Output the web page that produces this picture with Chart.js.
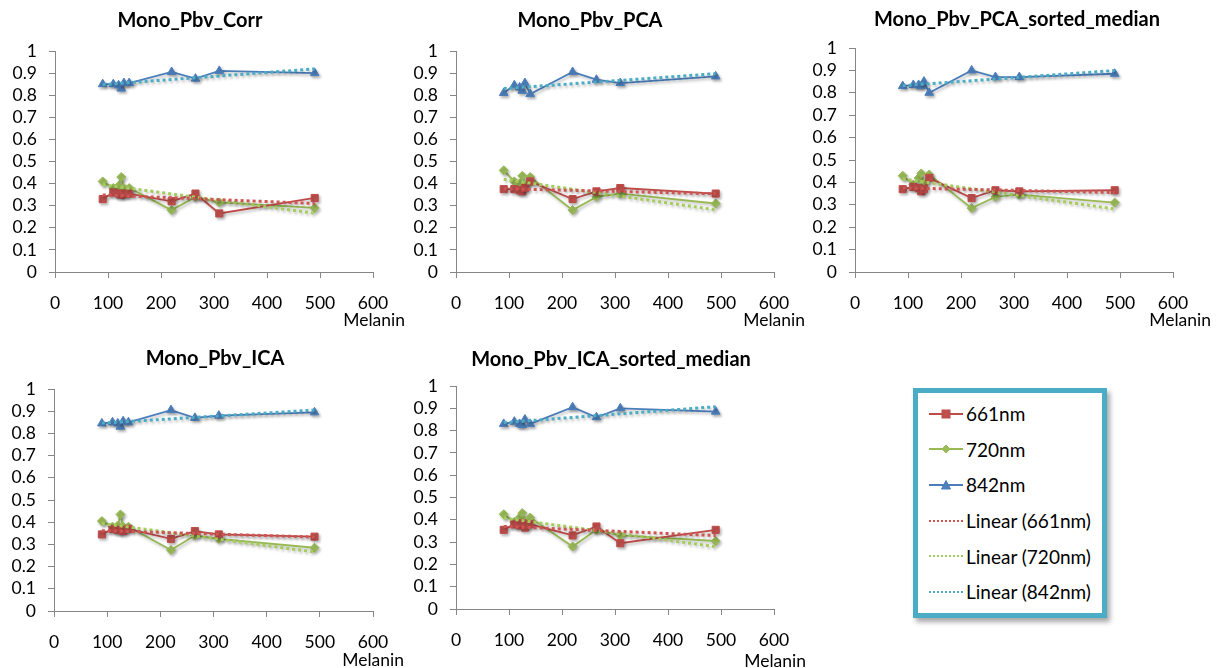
<!DOCTYPE html>
<html>
<head>
<meta charset="utf-8">
<script src="https://cdn.jsdelivr.net/npm/chart.js@4.4.1/dist/chart.umd.min.js"></script>
<style>
  body { margin: 0; background: #fff; width: 1223px; height: 668px; position: relative; overflow: hidden; font-family: Lato, sans-serif; }
  canvas.panel { position: absolute; }
  #legend {
    position: absolute; left: 913px; top: 388px; width: 184px; height: 217px;
    border: 5px solid #4BACC6; background: #fff;
    box-shadow: 3px 4px 5px rgba(0,0,0,0.35);
    padding-top: 3px; box-sizing: content-box;
  }
  #legend .row { height: 35.6px; display: flex; align-items: center; font-size: 19px; color: #000; }
  #legend svg { margin-left: 11px; margin-right: 3px; }
</style>
</head>
<body>
<canvas class="panel" id="c1"></canvas>
<canvas class="panel" id="c2"></canvas>
<canvas class="panel" id="c3"></canvas>
<canvas class="panel" id="c4"></canvas>
<canvas class="panel" id="c5"></canvas>
<div id="legend"></div>
<script>
// melanin values (x) shared by every panel
const melanin = [90, 110, 120, 125, 130, 140, 220, 265, 310, 490];

const xTicks = [0, 100, 200, 300, 400, 500, 600];
const xTickLabels = ["0", "100", "200", "300", "400", "500", "600"];
const yTicks = [0, 0.1, 0.2, 0.3, 0.4, 0.5, 0.6, 0.7, 0.8, 0.9, 1];
const yTickLabels = ["0", "0.1", "0.2", "0.3", "0.4", "0.5", "0.6", "0.7", "0.8", "0.9", "1"];

const seriesNames = ["661nm", "720nm", "842nm"];

// Mono_Pbv_Corr
const corr661 = [0.33, 0.36, 0.355, 0.35, 0.355, 0.355, 0.32, 0.355, 0.265, 0.335];
const corr720 = [0.41, 0.38, 0.39, 0.43, 0.38, 0.38, 0.28, 0.34, 0.315, 0.29];
const corr842 = [0.85, 0.85, 0.845, 0.83, 0.855, 0.855, 0.905, 0.875, 0.91, 0.90];

// Mono_Pbv_PCA
const pca661 = [0.375, 0.375, 0.37, 0.365, 0.38, 0.41, 0.33, 0.365, 0.38, 0.355];
const pca720 = [0.46, 0.41, 0.40, 0.435, 0.395, 0.43, 0.28, 0.34, 0.355, 0.31];
const pca842 = [0.81, 0.845, 0.835, 0.82, 0.855, 0.805, 0.905, 0.87, 0.855, 0.885];

// Mono_Pbv_PCA_sorted_median
const pcaMed661 = [0.37, 0.38, 0.375, 0.36, 0.37, 0.42, 0.33, 0.365, 0.36, 0.365];
const pcaMed720 = [0.43, 0.39, 0.42, 0.44, 0.395, 0.435, 0.285, 0.335, 0.345, 0.31];
const pcaMed842 = [0.83, 0.835, 0.835, 0.83, 0.85, 0.80, 0.90, 0.87, 0.87, 0.885];

// Mono_Pbv_ICA
const ica661 = [0.345, 0.37, 0.365, 0.365, 0.36, 0.37, 0.325, 0.36, 0.345, 0.335];
const ica720 = [0.405, 0.38, 0.385, 0.435, 0.38, 0.38, 0.275, 0.34, 0.325, 0.285];
const ica842 = [0.845, 0.85, 0.845, 0.83, 0.855, 0.85, 0.905, 0.87, 0.88, 0.895];

// Mono_Pbv_ICA_sorted_median
const icaMed661 = [0.355, 0.38, 0.375, 0.385, 0.365, 0.38, 0.33, 0.37, 0.295, 0.355];
const icaMed720 = [0.425, 0.39, 0.41, 0.43, 0.39, 0.41, 0.28, 0.355, 0.33, 0.305];
const icaMed842 = [0.83, 0.84, 0.83, 0.825, 0.85, 0.83, 0.905, 0.86, 0.90, 0.885];

const lineColors = ["#BE4B48", "#98B954", "#4A7EBB"];
const markerColors = ["#C0504D", "#9BBB59", "#4F81BD"];
const trendColors = ["#CF5552", "#A6CC5C", "#4BACC6"];
const markerStyles = ["rect", "rectRot", "triangle"];
const markerSizes = [5, 4.5, 5];

// where each panel sits on the page; area = plot rectangle inside its canvas
const panels = [
  { id: "c1", title: "Mono_Pbv_Corr", data: [corr661, corr720, corr842],
    box: [0, 0, 415, 335], area: [55, 51, 373, 272], titlePos: [190, 21], axisPos: [32, 48] },
  { id: "c2", title: "Mono_Pbv_PCA", data: [pca661, pca720, pca842],
    box: [400, 0, 415, 335], area: [56, 51, 374, 272], titlePos: [190, 21], axisPos: [31, 48] },
  { id: "c3", title: "Mono_Pbv_PCA_sorted_median", data: [pcaMed661, pcaMed720, pcaMed842],
    box: [800, 0, 423, 335], area: [55, 48, 373, 272], titlePos: [217, 20], axisPos: [38, 48] },
  { id: "c4", title: "Mono_Pbv_ICA", data: [ica661, ica720, ica842],
    box: [0, 335, 415, 333], area: [54, 54, 373, 276], titlePos: [215, 24], axisPos: [31, 49] },
  { id: "c5", title: "Mono_Pbv_ICA_sorted_median", data: [icaMed661, icaMed720, icaMed842],
    box: [400, 335, 415, 333], area: [56, 51, 374, 274], titlePos: [211, 25], axisPos: [32, 52] }
];

// Excel style linear trendline: least squares over the data range
function trend(xs, ys) {
  const n = xs.length;
  const mx = xs.reduce((a, b) => a + b, 0) / n;
  const my = ys.reduce((a, b) => a + b, 0) / n;
  let sxy = 0, sxx = 0;
  for (let i = 0; i < n; i++) {
    sxy += (xs[i] - mx) * (ys[i] - my);
    sxx += (xs[i] - mx) * (xs[i] - mx);
  }
  const b = sxy / sxx, a = my - b * mx;
  const x0 = Math.min(...xs), x1 = Math.max(...xs);
  return [{ x: x0, y: a + b * x0 }, { x: x1, y: a + b * x1 }];
}

const shadowPlugin = {
  id: "shadow",
  beforeDatasetsDraw(chart) {
    const ctx = chart.ctx;
    ctx.save();
    ctx.shadowColor = "rgba(0,0,0,0.28)";
    ctx.shadowBlur = 3;
    ctx.shadowOffsetX = 1.5;
    ctx.shadowOffsetY = 2;
  },
  afterDatasetsDraw(chart) {
    chart.ctx.restore();
  }
};

const textPlugin = {
  id: "panelText",
  afterDraw(chart, args, opts) {
    const ctx = chart.ctx;
    const area = chart.chartArea;
    ctx.save();
    ctx.fillStyle = "#000";
    ctx.font = "bold 20px Lato";
    ctx.textAlign = "center";
    ctx.textBaseline = "middle";
    ctx.fillText(opts.title, opts.titlePos[0], opts.titlePos[1]);
    ctx.font = "17.5px Lato";
    ctx.textAlign = "right";
    ctx.fillText("Melanin", area.right + opts.axisPos[0], area.bottom + opts.axisPos[1]);
    ctx.restore();
  }
};

panels.forEach(p => {
  const cv = document.getElementById(p.id);
  const [left, top, w, h] = p.box;
  cv.style.left = left + "px";
  cv.style.top = top + "px";
  cv.width = w;
  cv.height = h;
  cv.style.width = w + "px";
  cv.style.height = h + "px";

  const yW = 50, xH = 45;
  const [ax0, ay0, ax1, ay1] = p.area;

  const datasets = [];
  p.data.forEach((vals, i) => {
    datasets.push({
      label: seriesNames[i],
      data: melanin.map((x, k) => ({ x, y: vals[k] })),
      borderColor: lineColors[i],
      borderWidth: 1.8,
      backgroundColor: markerColors[i],
      pointBackgroundColor: markerColors[i],
      pointBorderColor: lineColors[i],
      pointBorderWidth: 1,
      pointStyle: markerStyles[i],
      pointRadius: markerSizes[i],
      tension: 0,
      order: 1
    });
  });
  p.data.forEach((vals, i) => {
    datasets.push({
      label: "Linear (" + seriesNames[i] + ")",
      data: trend(melanin, vals),
      borderColor: trendColors[i],
      borderWidth: 3,
      borderDash: [3, 3],
      pointRadius: 0,
      tension: 0,
      order: 0
    });
  });

  new Chart(cv, {
    type: "line",
    data: { datasets },
    options: {
      responsive: false,
      animation: false,
      events: [],
      layout: { padding: { left: ax0 - yW, top: ay0, right: w - ax1, bottom: h - ay1 - xH } },
      plugins: {
        legend: { display: false },
        tooltip: { enabled: false },
        panelText: { title: p.title, titlePos: p.titlePos, axisPos: p.axisPos }
      },
      scales: {
        x: {
          type: "linear",
          min: 0, max: 600,
          afterFit: s => { s.height = xH; },
          afterBuildTicks: s => { s.ticks = xTicks.map(v => ({ value: v })); },
          ticks: {
            callback: (v, i) => xTickLabels[i],
            font: { family: "Lato", size: 17.5 },
            color: "#000",
            padding: 15,
            maxRotation: 0,
            autoSkip: false
          },
          grid: { display: true, drawOnChartArea: false, drawTicks: true, tickLength: 6, color: "#868686" },
          border: { color: "#868686", width: 1 }
        },
        y: {
          type: "linear",
          min: 0, max: 1,
          afterFit: s => { s.width = yW; },
          afterBuildTicks: s => { s.ticks = yTicks.map(v => ({ value: v })); },
          ticks: {
            callback: (v, i) => yTickLabels[i],
            font: { family: "Lato", size: 17.5 },
            color: "#000",
            padding: 12,
            autoSkip: false
          },
          grid: { display: true, drawOnChartArea: false, drawTicks: true, tickLength: 6, color: "#868686" },
          border: { color: "#868686", width: 1 }
        }
      }
    },
    plugins: [shadowPlugin, textPlugin]
  });
});

// legend box shared by all panels
function legendIcon(i, trendLine) {
  if (trendLine) {
    return `<svg width="34" height="12"><line x1="0" y1="6" x2="34" y2="6" stroke="${trendColors[i]}" stroke-width="2" stroke-dasharray="2,2"/></svg>`;
  }
  let m = "";
  if (i === 0) m = `<rect x="13" y="2" width="8" height="8" fill="${markerColors[i]}" stroke="${lineColors[i]}"/>`;
  if (i === 1) m = `<polygon points="17,2 21,6 17,10 13,6" fill="${markerColors[i]}" stroke="${lineColors[i]}"/>`;
  if (i === 2) m = `<polygon points="17,1.5 21.5,10 12.5,10" fill="${markerColors[i]}" stroke="${lineColors[i]}"/>`;
  return `<svg width="34" height="12"><line x1="0" y1="6" x2="34" y2="6" stroke="${lineColors[i]}" stroke-width="2"/>${m}</svg>`;
}

const legendBox = document.getElementById("legend");
seriesNames.forEach((name, i) => {
  legendBox.innerHTML += `<div class="row">${legendIcon(i, false)}<span>${name}</span></div>`;
});
seriesNames.forEach((name, i) => {
  legendBox.innerHTML += `<div class="row">${legendIcon(i, true)}<span>Linear (${name})</span></div>`;
});
</script>
</body>
</html>
